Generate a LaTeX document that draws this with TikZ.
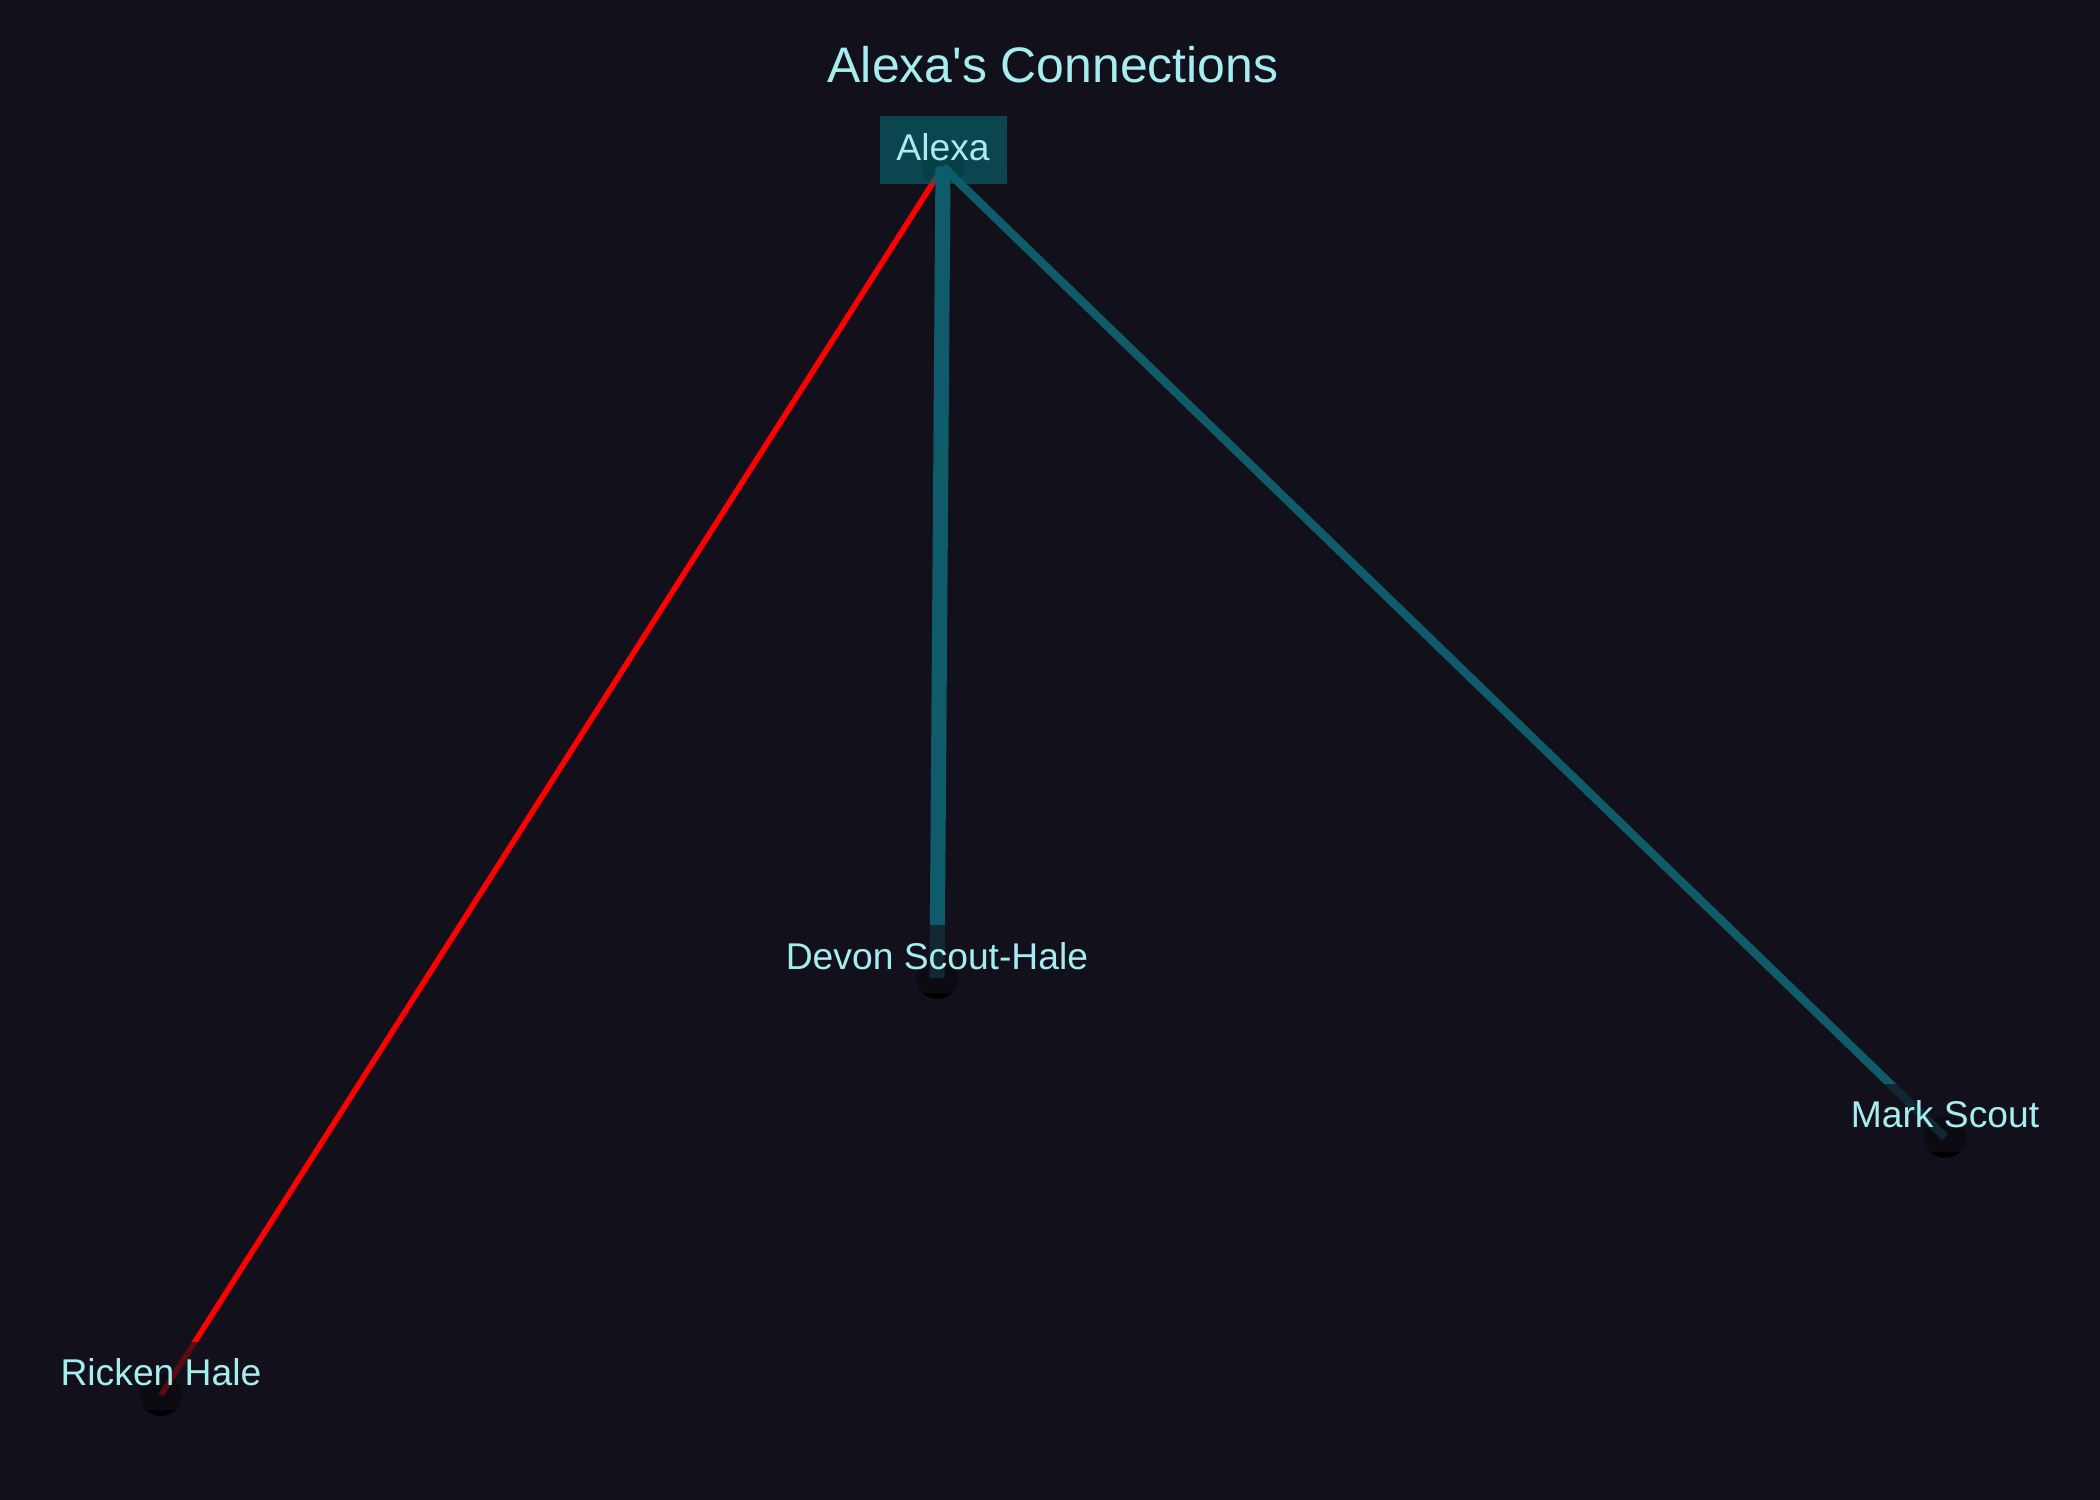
\documentclass[tikz,border=0pt]{standalone}
\usepackage{fontspec}
\setmainfont{Liberation Sans}
\usepackage{tikz}
\usetikzlibrary{positioning}
\definecolor{bgc}{HTML}{12111B}
\definecolor{txtc}{HTML}{A6EDF0}
\definecolor{tealc}{HTML}{0F5B69}
\definecolor{boxc}{HTML}{08606A}
\definecolor{redc}{HTML}{FF0000}

\begin{document}
\begin{tikzpicture}[x=0.1mm, y=-0.1mm,
    dot/.style={circle, fill=black, minimum size=4.2mm, inner sep=0pt},
    lbl/.style={fill=bgc, fill opacity=0.7, text opacity=1, text=txtc,
        minimum height=6.8mm, inner xsep=3pt, text height=7.6pt, text depth=1.7pt,
        font=\fontsize{10.6}{12.7}\selectfont},
    hub/.style={lbl, fill=boxc, fill opacity=0.67, minimum width=12.7mm},
    tie/.style={tealc, line width=#1},
    ttl/.style={text=txtc, font=\fontsize{14.2}{17}\selectfont, inner sep=0pt}]
    \path[fill=bgc] (0,0) rectangle (2100,1500);
    \node[ttl, anchor=base] (title) at (1053,83) {Alexa\textquotesingle s Connections};
    % people
    \node[dot] (alexa) at (943,167) {};
    \node[dot] (devon) at (937,978) {};
    \node[dot] (mark) at (1945,1137) {};
    \node[dot] (ricken) at (161,1395) {};
    % ties
    \draw[redc, line width=1.6pt] (alexa.center) -- (ricken.center);
    \draw[tie=4.3pt] (alexa.center) -- (devon.center);
    \draw[tie=2.4pt] (alexa.center) -- (mark.center);
    % names
    \node[hub] (alexalbl) at ([yshift=1.7mm]alexa.center) {Alexa};
    \node[lbl] (devonlbl) at ([yshift=1.9mm]devon.center) {Devon Scout-Hale};
    \node[lbl] (marklbl) at ([yshift=1.95mm]mark.center) {Mark Scout};
    \node[lbl] (rickenlbl) at ([yshift=1.95mm]ricken.center) {Ricken Hale};
\end{tikzpicture}
\end{document}
